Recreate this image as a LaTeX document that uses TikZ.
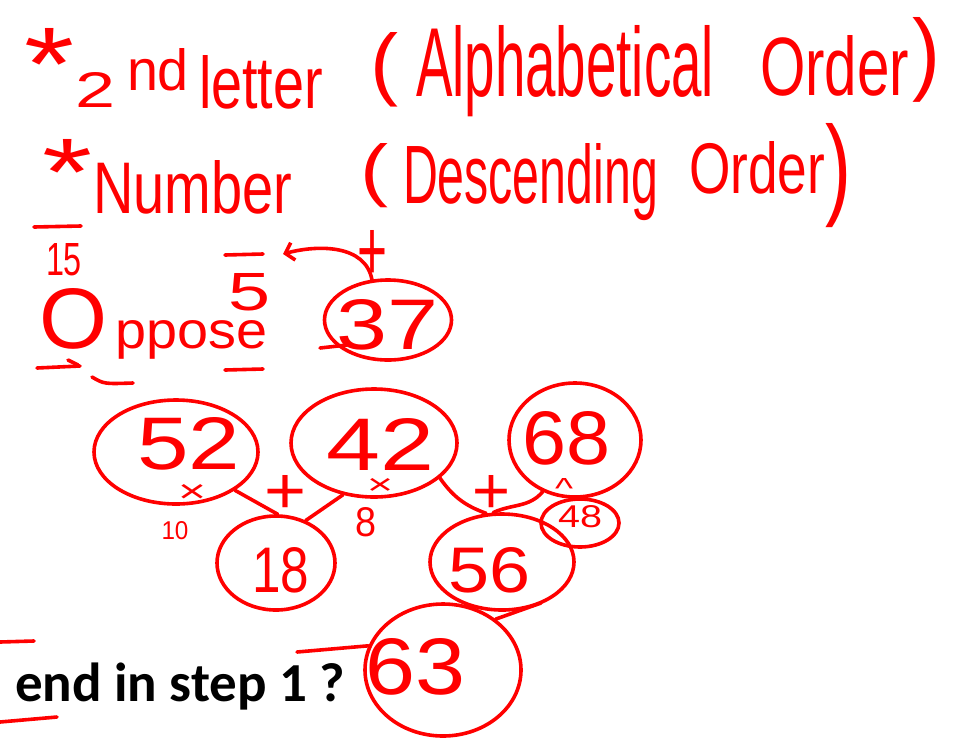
\documentclass[tikz,border=0pt]{standalone}
\usepackage{fontspec}
\setmainfont{Liberation Sans}
\newfontfamily\handfont{Liberation Sans}
\newfontfamily\slidefont{Carlito}
\usepackage{tikz}
\usetikzlibrary{positioning,arrows.meta,shapes.geometric}
\definecolor{penred}{RGB}{255,0,0}
% hand-lettering: width, height (pt), text
\newcommand{\handtext}[3]{\resizebox{#1pt}{#2pt}{\handfont #3}}

\begin{document}
\begin{tikzpicture}[x=1pt, y=1pt,
    ring/.style={draw=penred, line width=3.6pt, ellipse, inner sep=0pt},
    ink/.style={text=penred, inner sep=0pt, outer sep=0pt},
    word/.style={ink, anchor=base west},
    penline/.style={draw=penred, line width=3.6pt, line cap=round}]

    \useasboundingbox[fill=white] (0,0) rectangle (973,-742);

    % =========================================================================
    % HEADER: the two ordering rules
    % =========================================================================
    \node[word] (star1) at (24,-100) {\handtext{50}{72}{*}};
    \node[word] (two) at (75,-107) {\handtext{40}{35}{2}};
    \node[word] (nd) at (127,-90) {\handtext{62}{42}{nd}};
    \node[word] (letter) at (199,-108) {\handtext{124}{53}{letter}};
    \node[word] (lpar1) at (370,-90) {\handtext{28}{58}{(}};
    \node[word] (alpha) at (416,-96) {\handtext{298}{71}{Alphabetical}};
    \node[word] (order1) at (760,-95) {\handtext{149}{60}{Order}};
    \node[word] (rpar1) at (912,-83) {\handtext{28}{66}{)}};

    \node[word] (star2) at (42,-205) {\handtext{50}{66}{*}};
    \node[word] (number) at (93,-213) {\handtext{199}{53}{Number}};
    \node[word] (lpar2) at (360,-193) {\handtext{28}{50}{(}};
    \node[word] (desc) at (403,-203) {\handtext{255}{60}{Descending}};
    \node[word] (order2) at (689,-193) {\handtext{136}{52}{Order}};
    \node[word] (rpar2) at (825,-204) {\handtext{26}{81}{)}};
    \draw[penline] (34,-227) -- (81,-226);

    % =========================================================================
    % WORD: Oppose -> 37
    % =========================================================================
    \node[word] (t15) at (46,-275) {\handtext{36}{32}{15}};
    \node[word] (tO) at (39,-348) {\handtext{68}{60}{O}};
    \node[word] (tppose) at (115,-348) {\handtext{152}{28}{ppose}};
    \node[word] (t5) at (228,-310) {\handtext{42}{37}{5}};
    \draw[penline] (225,-255) -- (263,-254);
    \draw[penline] (225,-370) -- (263,-369);
    \draw[penline] (37,-368) -- (80,-366);
    \draw[penline] (68,-360) -- (78,-365);
    \draw[penline] (92,-377) .. controls (104,-384) .. (133,-383);

    \node[ring, minimum width=127pt, minimum height=80pt] (c37) at (388,-320) {};
    \node[ink] (t37) at (388,-325) {\handtext{102}{50}{37}};
    \draw[penline] (320,-348) -- (347,-345);
    \node[ink] (p37) at (372,-255) {\handtext{30}{50}{+}};
    \coordinate (arrtip) at (283,-254);
    \draw[penline, -{Straight Barb[length=8pt, width=18pt]}] (p37.south) to[out=100, in=15] (arrtip);

    % =========================================================================
    % NUMBER TREE
    % =========================================================================
    \node[ring, minimum width=164pt, minimum height=104pt] (c52) at (176,-452) {};
    \node[ink] (t52) at (189,-444) {\handtext{103}{52}{52}};
    \node[ink] (x52) at (192,-493) {\handtext{28}{18}{×}};
    \node[ink] (t10) at (175,-531) {\handtext{27}{18}{10}};

    \node[ring, minimum width=166pt, minimum height=108pt] (c42) at (374,-443) {};
    \node[ink] (t42) at (381,-444) {\handtext{108}{52}{42}};
    \node[ink] (x42) at (380,-486) {\handtext{26}{16}{×}};
    \node[ink] (t8) at (366,-522) {\handtext{21}{29}{8}};

    \node[ring, minimum width=132pt, minimum height=114pt] (c68) at (575,-440) {};
    \node[ink] (t68) at (567,-438) {\handtext{88}{53}{68}};
    \node[ink] (caret) at (564,-488) {\handtext{18}{20}{\textasciicircum}};
    \node[ring, minimum width=78pt, minimum height=48pt] (c48) at (580,-523) {};
    \node[ink] (t48) at (580,-517) {\handtext{44}{22}{48}};

    \node[ink] (plus1) at (285,-494) {\handtext{42}{38}{+}};
    \node[ink] (plus2) at (491,-494) {\handtext{38}{38}{+}};

    \node[ring, minimum width=118pt, minimum height=94pt] (c18) at (276,-563) {};
    \node[ink] (t18) at (281,-570) {\handtext{57}{45}{18}};
    \node[ring, minimum width=144pt, minimum height=96pt] (c56) at (502,-562) {};
    \node[ink] (t56) at (490,-570) {\handtext{82}{45}{56}};

    \draw[penline] (c52.-33) -- (c18.88);
    \draw[penline] (c42.-121) -- (c18.55);
    \draw[penline] (c42.-28) to[out=-55, in=160] (c56.108);
    \draw[penline] (c68.-122) to[out=-130, in=25] (c56.100);

    % =========================================================================
    % ANSWER: 63
    % =========================================================================
    \node[ring, minimum width=156pt, minimum height=132pt] (c63) at (443,-670) {};
    \node[ink] (t63) at (416,-667) {\handtext{100}{56}{63}};
    \coordinate (lead) at (297,-652);
    \coordinate (tail) at (541,-603);
    \draw[penline] (c63.162) -- (lead);
    \draw[penline] (c63.44) -- (tail);

    \node[anchor=base west, inner sep=0pt, font=\slidefont\bfseries\fontsize{55}{66}\selectfont] (endq) at (15,-701) {end in step 1 ?};
    \draw[penline] (0,-642) -- (34,-641);
    \draw[penline] (0,-722) -- (57,-717);

\end{tikzpicture}
\end{document}
